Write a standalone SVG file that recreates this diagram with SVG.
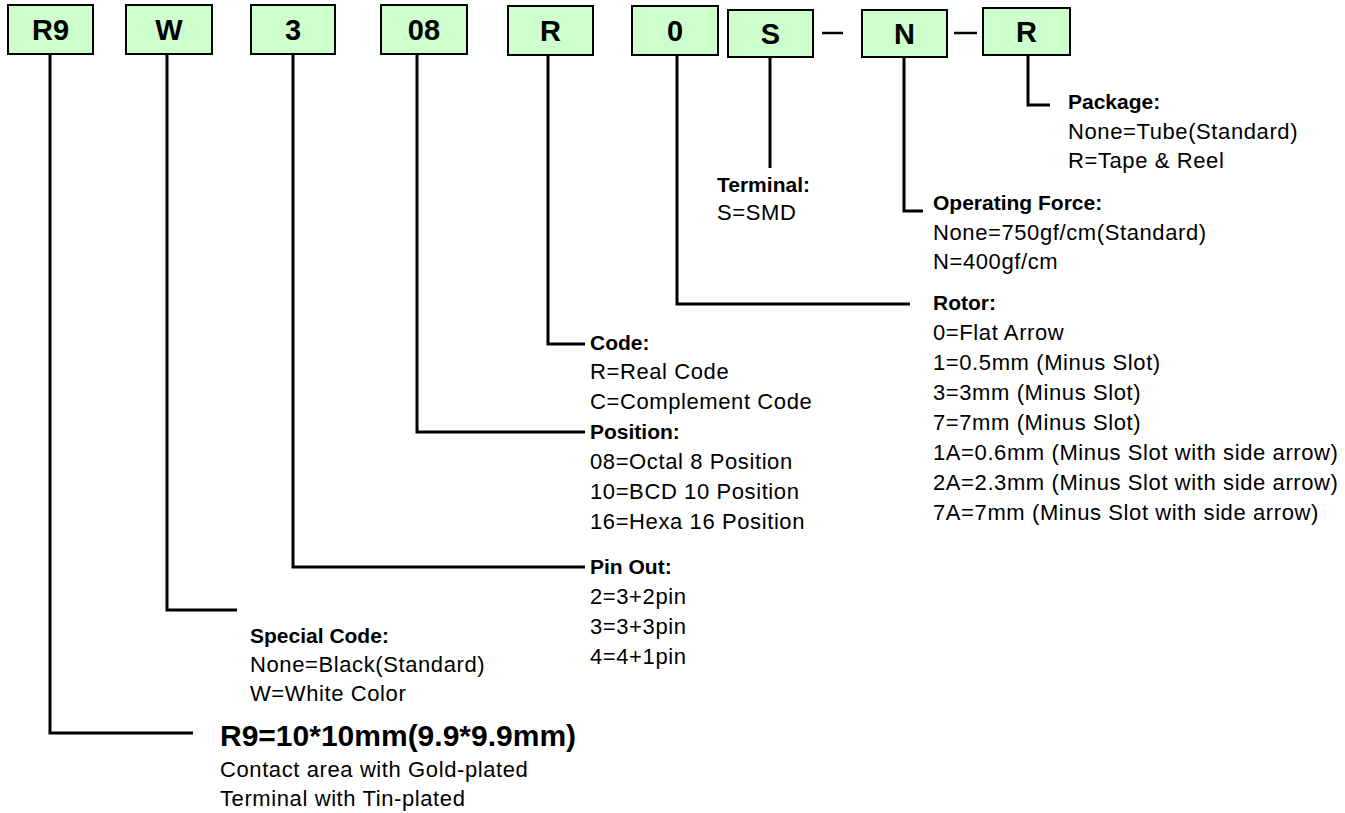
<svg xmlns="http://www.w3.org/2000/svg" width="1345" height="813" viewBox="0 0 1345 813">
<style>
.box{fill:#CCFFCC;stroke:#000;stroke-width:2}
.bl{font-family:"Liberation Sans",Arial,sans-serif;font-weight:bold;font-size:29px;text-anchor:middle;fill:#000}
.h{font-family:"Liberation Sans",Arial,sans-serif;font-weight:bold;font-size:21px;fill:#000}
.t{font-family:"Liberation Sans",Arial,sans-serif;font-size:22px;letter-spacing:0.6px;fill:#000}
.big{font-family:"Liberation Sans",Arial,sans-serif;font-weight:bold;font-size:30px;fill:#000}
.c{fill:none;stroke:#000;stroke-width:3}
.d{fill:none;stroke:#000;stroke-width:2.5}
</style>
<rect width="1345" height="813" fill="#fff"/>
<g id="connectors">
<polyline class="c" points="50,55 50,733 193,733"/>
<polyline class="c" points="167,55 167,610 237,610"/>
<polyline class="c" points="293,55 293,567 585,567"/>
<polyline class="c" points="417,55 417,432 585,432"/>
<polyline class="c" points="548,55 548,344 585,344"/>
<polyline class="c" points="677,55 677,304 910,304"/>
<polyline class="c" points="770,57 770,168"/>
<polyline class="c" points="904,57 904,211 923,211"/>
<polyline class="c" points="1028,55 1028,105 1050,105"/>
<line class="d" x1="822" y1="33" x2="843" y2="33"/>
<line class="d" x1="954" y1="33" x2="977" y2="33"/>
</g>
<g id="box-R9"><rect class="box" x="8" y="5" width="85" height="49"/><text class="bl" x="50.5" y="40">R9</text></g>
<g id="box-W"><rect class="box" x="126" y="5" width="86" height="49"/><text class="bl" x="169" y="40">W</text></g>
<g id="box-3"><rect class="box" x="251" y="5" width="84" height="49"/><text class="bl" x="293" y="40">3</text></g>
<g id="box-08"><rect class="box" x="381" y="5" width="86" height="49"/><text class="bl" x="424" y="40">08</text></g>
<g id="box-R"><rect class="box" x="508" y="6" width="85" height="49"/><text class="bl" x="550.5" y="41">R</text></g>
<g id="box-0"><rect class="box" x="632" y="6" width="86" height="49"/><text class="bl" x="675" y="41">0</text></g>
<g id="box-S"><rect class="box" x="728" y="10" width="85" height="47"/><text class="bl" x="770.5" y="44">S</text></g>
<g id="box-N"><rect class="box" x="862" y="10" width="85" height="47"/><text class="bl" x="904.5" y="44">N</text></g>
<g id="box-R2"><rect class="box" x="983" y="8" width="87" height="47"/><text class="bl" x="1026.5" y="42">R</text></g>

<g id="label-package">
<text class="h" x="1068" y="109">Package:</text>
<text class="t" x="1068" y="139">None=Tube(Standard)</text>
<text class="t" x="1068" y="168">R=Tape &amp; Reel</text>
</g>
<g id="label-terminal">
<text class="h" x="717" y="192">Terminal:</text>
<text class="t" x="717" y="220">S=SMD</text>
</g>
<g id="label-force">
<text class="h" x="933" y="210">Operating Force:</text>
<text class="t" x="933" y="240">None=750gf/cm(Standard)</text>
<text class="t" x="933" y="269">N=400gf/cm</text>
</g>
<g id="label-rotor">
<text class="h" x="933" y="310">Rotor:</text>
<text class="t" x="933" y="340">0=Flat Arrow</text>
<text class="t" x="933" y="370">1=0.5mm (Minus Slot)</text>
<text class="t" x="933" y="400">3=3mm (Minus Slot)</text>
<text class="t" x="933" y="430">7=7mm (Minus Slot)</text>
<text class="t" x="933" y="460">1A=0.6mm (Minus Slot with side arrow)</text>
<text class="t" x="933" y="490">2A=2.3mm (Minus Slot with side arrow)</text>
<text class="t" x="933" y="520">7A=7mm (Minus Slot with side arrow)</text>
</g>
<g id="label-code">
<text class="h" x="590" y="350">Code:</text>
<text class="t" x="590" y="379">R=Real Code</text>
<text class="t" x="590" y="409">C=Complement Code</text>
</g>
<g id="label-position">
<text class="h" x="590" y="439">Position:</text>
<text class="t" x="590" y="469">08=Octal 8 Position</text>
<text class="t" x="590" y="499">10=BCD 10 Position</text>
<text class="t" x="590" y="529">16=Hexa 16 Position</text>
</g>
<g id="label-pinout">
<text class="h" x="590" y="574">Pin Out:</text>
<text class="t" x="590" y="604">2=3+2pin</text>
<text class="t" x="590" y="634">3=3+3pin</text>
<text class="t" x="590" y="664">4=4+1pin</text>
</g>
<g id="label-special">
<text class="h" x="250" y="643">Special Code:</text>
<text class="t" x="250" y="672">None=Black(Standard)</text>
<text class="t" x="250" y="701">W=White Color</text>
</g>
<g id="label-size">
<text class="big" x="220" y="746">R9=10*10mm(9.9*9.9mm)</text>
<text class="t" x="220" y="777">Contact area with Gold-plated</text>
<text class="t" x="220" y="806">Terminal with Tin-plated</text>
</g>
</svg>
